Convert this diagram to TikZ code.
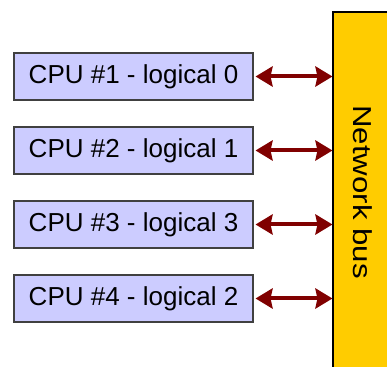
\documentclass[tikz,border=0pt]{standalone}
\usepackage{fontspec}
\setmainfont{Liberation Sans}
\usepackage{tikz}
\usetikzlibrary{arrows.meta,positioning}
\definecolor{cpufill}{HTML}{CCCCFF}
\definecolor{busfill}{HTML}{FFCC00}
\definecolor{linkred}{HTML}{800000}
\tikzset{
    cpubox/.style={draw=black!75,fill=cpufill,line width=0.8pt,minimum width=179.25pt,minimum height=35.25pt,inner sep=0pt,font=\fontsize{19.5}{23}\selectfont},
    busbox/.style={draw=black,fill=busfill,line width=0.8pt,rotate=-90,minimum width=270pt,minimum height=45pt,inner sep=0pt,font=\fontsize{19.5}{23}\selectfont},
    link/.style={draw=linkred,line width=3pt,{Stealth[length=12.75pt,width=15pt,inset=1.5pt]}-{Stealth[length=12.75pt,width=15pt,inset=1.5pt]}}
}
\begin{document}
\begin{tikzpicture}[x=0.75pt,y=-0.75pt]
        \useasboundingbox (0,0) rectangle (387,367);
        \clip (0,0) rectangle (387,367);
        % Bus
        \node[busbox] (bus) at (363,192) {\scalebox{1.2}[1]{Network bus}};
        % CPUs
        \node[cpubox] (cpu1) at (133.5,76.5) {CPU \#1 - logical 0};
        \node[cpubox] (cpu2) at (133.5,150.5) {CPU \#2 - logical 1};
        \node[cpubox] (cpu3) at (133.5,224.5) {CPU \#3 - logical 3};
        \node[cpubox] (cpu4) at (133.5,298.5) {CPU \#4 - logical 2};
        % Links to the bus (bus is turned, its south side faces the CPUs)
        \draw[link] ([xshift=1.5pt]cpu1.east) -- (cpu1.east -| bus.south);
        \draw[link] ([xshift=1.5pt]cpu2.east) -- (cpu2.east -| bus.south);
        \draw[link] ([xshift=1.5pt]cpu3.east) -- (cpu3.east -| bus.south);
        \draw[link] ([xshift=1.5pt]cpu4.east) -- (cpu4.east -| bus.south);
    \end{tikzpicture}
\end{document}
